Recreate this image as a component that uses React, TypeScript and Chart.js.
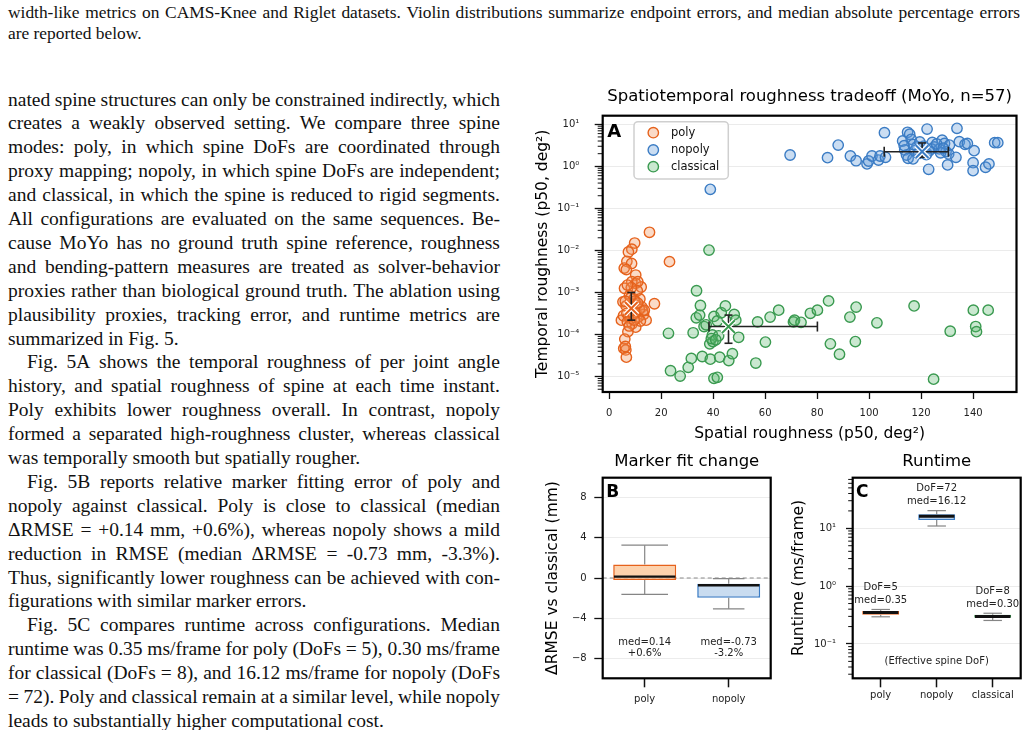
import { useEffect, useRef } from "react";
import { Chart, registerables } from "chart.js";

Chart.register(...registerables);
Chart.defaults.font.family = "'DejaVu Sans', sans-serif";
Chart.defaults.color = "#222";

// ---------------- Panel A: spatial vs temporal roughness (one point per sequence) ----------------
const MODES = ["poly", "nopoly", "classical"];

// [spatial roughness p50 (deg²), temporal roughness p50 (deg²)]
const POLY_POINTS: [number, number][] = [
  [15.5, 0.027], [9.8, 0.015], [8.7, 0.0107], [7.4, 0.0092], [6.8, 0.0055], [8.6, 0.0049],
  [5.8, 0.0038], [10.2, 0.0026], [6.6, 0.0035], [23.2, 0.0054], [10.2, 0.00165], [8.7, 0.0018],
  [5.9, 0.00126], [12.3, 0.00135], [11.0, 0.0018], [17.4, 0.00054], [5.3, 0.0006], [7.8, 0.00085],
  [9.5, 0.0007], [10.8, 0.0011], [11.8, 0.0007], [6.5, 0.00048], [8.0, 0.00055], [9.0, 0.00042],
  [10.5, 0.0005], [12.6, 0.00045], [13.2, 0.0003], [12.9, 0.00036], [14.2, 0.00022], [4.7, 0.00022],
  [5.5, 0.00028], [6.8, 0.00032], [7.5, 0.00027], [8.3, 0.00024], [9.3, 0.0003], [10.3, 0.00033],
  [11.2, 0.00026], [7.0, 0.0002], [8.8, 0.00018], [10.2, 0.00015], [7.2, 0.000117], [6.0, 0.000078],
  [5.6, 0.000047], [6.4, 0.000043], [6.6, 0.000029], [6.2, 0.000052], [11.6, 0.0004], [13.5, 0.00038],
  [9.9, 0.00062], [8.3, 0.00075], [6.2, 0.00062], [12.0, 0.00021], [7.7, 0.00016], [9.6, 0.00022],
  [11.0, 0.00056], [8.5, 0.0013], [7.0, 0.0015],
];

const NOPOLY_POINTS: [number, number][] = [
  [69.6, 1.86], [38.9, 0.284], [84.0, 1.61], [88.1, 3.2], [92.8, 1.76], [95.0, 1.36],
  [99.2, 1.14], [99.8, 1.34], [101.1, 1.76], [103.6, 1.41], [104.2, 1.76], [105.9, 6.3],
  [106.3, 1.64], [112.9, 4.0], [113.7, 2.45], [114.4, 1.86], [114.8, 6.45], [115.6, 5.8],
  [116.2, 4.4], [115.0, 1.55], [116.9, 1.5], [117.5, 2.35], [118.4, 2.93], [122.3, 7.7],
  [122.9, 0.85], [124.3, 3.7], [125.1, 2.9], [127.0, 2.6], [128.1, 4.2], [129.0, 3.5],
  [129.6, 2.24], [130.2, 1.08], [130.6, 1.97], [130.9, 3.2], [133.4, 1.64], [133.8, 8.0],
  [134.7, 3.86], [136.9, 3.34], [137.8, 3.5], [140.4, 2.36], [140.0, 1.22], [140.0, 0.79],
  [144.8, 0.95], [146.1, 1.14], [148.3, 3.65], [149.5, 3.65], [113.5, 3.1], [117.0, 3.3],
  [119.0, 2.0], [121.0, 3.0], [124.0, 2.6], [126.0, 3.4], [127.5, 2.1], [123.0, 2.3],
  [119.5, 3.8], [128.5, 2.7], [122.0, 1.9],
];

const CLASSICAL_POINTS: [number, number][] = [
  [33.6, 0.0011], [22.8, 0.000107], [23.6, 0.0000138], [27.3, 0.0000103], [30.4, 0.0000166],
  [31.6, 0.000027], [32.3, 0.00011], [33.5, 0.00025], [34.8, 0.00029], [35.1, 0.00049],
  [35.8, 0.00003], [36.5, 0.000155], [38.9, 0.000026], [38.7, 0.00006], [39.7, 0.000098],
  [39.9, 0.000068], [40.3, 0.0000091], [41.6, 0.0000096], [40.3, 0.00027], [41.6, 0.00021],
  [42.1, 0.000093], [42.5, 0.000029], [43.1, 0.00033], [44.7, 0.00048], [46.0, 0.000024],
  [47.4, 0.000035], [48.1, 0.0003], [48.7, 0.00022], [49.8, 0.000086], [56.4, 0.000021],
  [57.1, 0.0002], [60.1, 0.000066], [61.9, 0.00026], [65.2, 0.00038], [70.9, 0.0002],
  [71.3, 0.00022], [73.8, 0.000195], [77.4, 0.00032], [80.1, 0.00038], [84.4, 0.00063],
  [85.1, 0.00006], [88.6, 0.000034], [92.6, 0.00026], [95.0, 0.00045], [94.7, 0.000068],
  [103.0, 0.00019], [117.3, 0.00048], [124.8, 0.0000087], [131.2, 0.00012], [140.1, 0.00038],
  [141.0, 0.000155], [141.3, 0.000117], [145.8, 0.00038], [38.4, 0.0102], [39.3, 0.00008],
  [41.0, 0.000075], [37.3, 0.00017],
];

// medians and interquartile ranges per mode (poly, nopoly, classical)
const MEDIAN_SPATIAL = [8.5, 120.4, 45.9];
const MEDIAN_TEMPORAL = [4.2e-4, 2.23, 1.55e-4];
const SPATIAL_Q1: (number | null)[] = [null, 105.8, 38.4];
const SPATIAL_Q3: (number | null)[] = [null, 130.5, 80.1];
const TEMPORAL_Q1 = [2.2e-4, 1.64, 6.2e-5];
const TEMPORAL_Q3 = [1.0e-3, 3.6, 2.9e-4];

const SPATIAL_TICKS = [0, 20, 40, 60, 80, 100, 120, 140];

// ---------------- Panel B: marker RMSE change relative to classical ----------------
const B_LABELS = ["poly", "nopoly"];
const B_MEDIAN = [0.14, -0.73];
const B_Q1 = [-0.2, -1.97];
const B_Q3 = [1.35, -0.57];
const B_WHISKER_LO = [-1.63, -3.07];
const B_WHISKER_HI = [3.27, -0.07];
const B_PERCENT = ["+0.6%", "-3.2%"];
const B_TICKS = [-8, -4, 0, 4, 8];

// ---------------- Panel C: runtime per frame ----------------
const C_LABELS = ["poly", "nopoly", "classical"];
const C_DOF = [5, 72, 8];
const C_MEDIAN = [0.35, 16.12, 0.3];
const C_Q1 = [0.32, 13.9, 0.285];
const C_Q3 = [0.37, 17.5, 0.32];
const C_WHISKER_LO = [0.295, 10.96, 0.255];
const C_WHISKER_HI = [0.395, 20.2, 0.34];

// ---------------- styling ----------------
const EDGE: Record<string, string> = { poly: "#e6621c", nopoly: "#3b7cc4", classical: "#3a9a50" };
const DOT_FILL: Record<string, string> = {
  poly: "rgba(240,140,80,0.32)",
  nopoly: "rgba(90,150,215,0.32)",
  classical: "rgba(90,185,110,0.32)",
};
const BOX_FILL: Record<string, string> = { poly: "#fdd2ad", nopoly: "#c9dcf0", classical: "#c6e6cc" };
const WHISKER = "#858585";
const SANS = "'DejaVu Sans', sans-serif";
const SERIF = "'Liberation Serif', 'Times New Roman', serif";

const SUP: Record<string, string> = {
  "-": "⁻", "0": "⁰", "1": "¹", "2": "²", "3": "³", "4": "⁴", "5": "⁵", "6": "⁶", "7": "⁷", "8": "⁸", "9": "⁹",
};
const isDecade = (v: number) => {
  const l = Math.log10(v);
  return Math.abs(l - Math.round(l)) < 1e-9;
};
const decadeLabel = (v: number) =>
  isDecade(v) ? "10" + String(Math.round(Math.log10(v))).split("").map((c) => SUP[c]).join("") : "";

function logTicks(min: number, max: number) {
  const out: { value: number; major: boolean }[] = [];
  for (let e = Math.floor(Math.log10(min)); e <= Math.ceil(Math.log10(max)); e++) {
    for (let m = 1; m <= 9; m++) {
      const v = m * Math.pow(10, e);
      if (v >= min && v <= max) out.push({ value: v, major: m === 1 });
    }
  }
  return out;
}

function seg(ctx: CanvasRenderingContext2D, x1: number, y1: number, x2: number, y2: number) {
  ctx.beginPath();
  ctx.moveTo(x1, y1);
  ctx.lineTo(x2, y2);
  ctx.stroke();
}

// thick axes frame plus the bold panel letter
const framePlugin = (letter: string, size: number, dx: number, dy: number) => ({
  id: "frame",
  afterDraw(chart: any) {
    const { ctx, chartArea: a } = chart;
    ctx.save();
    ctx.strokeStyle = "#000";
    ctx.lineWidth = 2.2;
    ctx.strokeRect(a.left, a.top, a.right - a.left, a.bottom - a.top);
    ctx.font = `bold ${size}px ${SANS}`;
    ctx.fillStyle = "#000";
    ctx.textAlign = "left";
    ctx.textBaseline = "alphabetic";
    ctx.fillText(letter, a.left + dx, a.top + dy);
    ctx.restore();
  },
});

// short minor ticks on a logarithmic y axis
const minorTicksPlugin = (len: number) => ({
  id: "minorTicks",
  afterDraw(chart: any) {
    const { ctx, chartArea: a } = chart;
    const s = chart.scales.y;
    ctx.save();
    ctx.strokeStyle = "#111";
    ctx.lineWidth = 1;
    for (const t of s.ticks) {
      if (isDecade(t.value)) continue;
      const y = s.getPixelForValue(t.value);
      seg(ctx, a.left, y, a.left - len, y);
    }
    ctx.restore();
  },
});

const logGrid = (len: number) => ({
  color: (c: any) => (c.tick && isDecade(c.tick.value) ? "#ebebeb" : "rgba(0,0,0,0)"),
  tickColor: (c: any) => (c.tick && isDecade(c.tick.value) ? "#111" : "rgba(0,0,0,0)"),
  tickLength: len,
  tickWidth: 1.3,
  lineWidth: 1,
});

// ---------------- Panel A chart ----------------
function makeChartA(canvas: HTMLCanvasElement) {
  const series = [POLY_POINTS, NOPOLY_POINTS, CLASSICAL_POINTS];
  const medians = MEDIAN_SPATIAL.map((x, i) => ({ x, y: MEDIAN_TEMPORAL[i] }));

  const errorBars = {
    id: "errorBars",
    beforeDatasetDraw(chart: any, args: any) {
      if (args.index !== 3) return;
      const { ctx } = chart;
      const xs = chart.scales.x;
      const ys = chart.scales.y;
      ctx.save();
      ctx.strokeStyle = "#222";
      ctx.lineWidth = 1.6;
      MODES.forEach((_, i) => {
        const px = xs.getPixelForValue(MEDIAN_SPATIAL[i]);
        const py = ys.getPixelForValue(MEDIAN_TEMPORAL[i]);
        const lo = SPATIAL_Q1[i];
        const hi = SPATIAL_Q3[i];
        if (lo != null && hi != null) {
          const x1 = xs.getPixelForValue(lo);
          const x2 = xs.getPixelForValue(hi);
          seg(ctx, x1, py, x2, py);
          seg(ctx, x1, py - 5, x1, py + 5);
          seg(ctx, x2, py - 5, x2, py + 5);
        }
        const y1 = ys.getPixelForValue(TEMPORAL_Q1[i]);
        const y2 = ys.getPixelForValue(TEMPORAL_Q3[i]);
        seg(ctx, px, y1, px, y2);
        seg(ctx, px - 4, y1, px + 4, y1);
        seg(ctx, px - 4, y2, px + 4, y2);
      });
      ctx.restore();
    },
  };

  const legend = {
    id: "legendBox",
    afterDraw(chart: any) {
      const { ctx, chartArea: a } = chart;
      const x0 = a.left + 31.3;
      const y0 = a.top + 6;
      ctx.save();
      ctx.beginPath();
      ctx.roundRect(x0, y0, 94.3, 57.3, 4);
      ctx.fillStyle = "rgba(255,255,255,0.85)";
      ctx.fill();
      ctx.strokeStyle = "#cfcfcf";
      ctx.lineWidth = 1.5;
      ctx.stroke();
      const rows = [17, 34.3, 51];
      ctx.font = `11.5px ${SANS}`;
      ctx.textAlign = "left";
      ctx.textBaseline = "middle";
      MODES.forEach((m, i) => {
        const cy = a.top + rows[i];
        ctx.beginPath();
        ctx.arc(a.left + 50.6, cy, 5.2, 0, Math.PI * 2);
        ctx.fillStyle = "#fff";
        ctx.fill();
        ctx.fillStyle = DOT_FILL[m];
        ctx.fill();
        ctx.strokeStyle = EDGE[m];
        ctx.lineWidth = 1.4;
        ctx.stroke();
        ctx.fillStyle = "#111";
        ctx.fillText(m, a.left + 68.3, cy + 0.5);
      });
      ctx.restore();
    },
  };

  return new Chart(canvas, {
    type: "scatter",
    data: {
      datasets: [
        ...MODES.map((m, i) => ({
          label: m,
          data: series[i].map(([x, y]) => ({ x, y })),
          pointRadius: 5.2,
          borderWidth: 1.4,
          borderColor: EDGE[m],
          backgroundColor: DOT_FILL[m],
        })),
        {
          label: "median (white)",
          data: medians,
          pointStyle: "crossRot",
          pointRadius: 9,
          borderWidth: 4.5,
          borderColor: "#ffffff",
          order: -1,
        },
        {
          label: "median",
          data: medians,
          pointStyle: "crossRot",
          pointRadius: 9,
          borderWidth: 2,
          borderColor: MODES.map((m) => EDGE[m]),
          order: -2,
        },
      ],
    } as any,
    options: {
      responsive: false,
      animation: false,
      events: [],
      layout: { padding: { left: 0, right: 8.7, top: 0, bottom: 0 } },
      plugins: {
        legend: { display: false },
        tooltip: { enabled: false },
        title: {
          display: true,
          text: "Spatiotemporal roughness tradeoff (MoYo, n=57)",
          fullSize: false,
          color: "#000",
          font: { size: 16.5, weight: "normal" },
          padding: { top: 6.8, bottom: 9.1 },
        },
      },
      scales: {
        x: {
          type: "linear",
          min: -2.5,
          max: 156.7,
          afterBuildTicks: (s: any) => {
            s.ticks = SPATIAL_TICKS.map((v) => ({ value: v }));
          },
          afterFit: (s: any) => {
            s.height = 58;
          },
          grid: { drawOnChartArea: false, tickLength: 7, tickWidth: 1.3, tickColor: "#111" },
          border: { display: false },
          ticks: { font: { size: 10 }, color: "#222", padding: 8.3, autoSkip: false, maxRotation: 0 },
          title: {
            display: true,
            text: "Spatial roughness (p50, deg²)",
            color: "#000",
            font: { size: 15.5 },
            padding: { top: 0, bottom: 6.4 },
          },
        },
        y: {
          type: "logarithmic",
          min: 4.3e-6,
          max: 16,
          afterBuildTicks: (s: any) => {
            s.ticks = logTicks(4.3e-6, 16);
          },
          afterFit: (s: any) => {
            s.width = 72.7;
          },
          grid: logGrid(8),
          border: { display: false },
          ticks: { callback: (v: any) => decadeLabel(Number(v)), font: { size: 10 }, color: "#222", padding: 15.4, autoSkip: false },
          title: {
            display: true,
            text: "Temporal roughness (p50, deg²)",
            color: "#000",
            font: { size: 15.5 },
            padding: { top: 3.7, bottom: 0 },
          },
        },
      },
    } as any,
    plugins: [errorBars, minorTicksPlugin(5), framePlugin("A", 18, 4.5, 21.3), legend],
  });
}

// box whiskers, caps and medians drawn over floating bars
function boxDecor(
  med: number[],
  q1: number[],
  q3: number[],
  wlo: number[],
  whi: number[],
  capFrac: number[],
  medWidth: number
) {
  return {
    id: "boxDecor",
    afterDatasetsDraw(chart: any) {
      const { ctx } = chart;
      const ys = chart.scales.y;
      const bars = chart.getDatasetMeta(0).data;
      ctx.save();
      bars.forEach((bar: any, i: number) => {
        const cx = bar.x;
        const half = bar.width / 2;
        const cap = (bar.width * capFrac[i]) / 2;
        const yHi = ys.getPixelForValue(whi[i]);
        const yLo = ys.getPixelForValue(wlo[i]);
        ctx.strokeStyle = WHISKER;
        ctx.lineWidth = 1.2;
        seg(ctx, cx, ys.getPixelForValue(q3[i]), cx, yHi);
        seg(ctx, cx, ys.getPixelForValue(q1[i]), cx, yLo);
        seg(ctx, cx - cap, yHi, cx + cap, yHi);
        seg(ctx, cx - cap, yLo, cx + cap, yLo);
        const ym = ys.getPixelForValue(med[i]);
        ctx.strokeStyle = "#111";
        ctx.lineWidth = medWidth;
        seg(ctx, cx - half + 0.8, ym, cx + half - 0.8, ym);
      });
      ctx.restore();
    },
  };
}

// ---------------- Panel B chart ----------------
const B_NOTE_Y = -6.95;

function makeChartB(canvas: HTMLCanvasElement) {
  const zeroLine = {
    id: "zeroLine",
    beforeDatasetsDraw(chart: any) {
      const { ctx, chartArea: a } = chart;
      const y = chart.scales.y.getPixelForValue(0);
      ctx.save();
      ctx.strokeStyle = "#8a8a8a";
      ctx.lineWidth = 1.2;
      ctx.setLineDash([4, 3]);
      seg(ctx, a.left, y, a.right, y);
      ctx.restore();
    },
  };
  const notes = {
    id: "notes",
    afterDatasetsDraw(chart: any) {
      const { ctx } = chart;
      const bars = chart.getDatasetMeta(0).data;
      const y = chart.scales.y.getPixelForValue(B_NOTE_Y);
      ctx.save();
      ctx.font = `10px ${SANS}`;
      ctx.fillStyle = "#222";
      ctx.textAlign = "center";
      ctx.textBaseline = "middle";
      bars.forEach((bar: any, i: number) => {
        ctx.fillText(`med=${B_MEDIAN[i].toFixed(2)}`, bar.x, y - 5.3);
        ctx.fillText(B_PERCENT[i], bar.x, y + 5.3);
      });
      ctx.restore();
    },
  };

  return new Chart(canvas, {
    type: "bar",
    data: {
      labels: B_LABELS,
      datasets: [
        {
          label: "ΔRMSE",
          data: B_LABELS.map((_, i) => [B_Q1[i], B_Q3[i]]),
          backgroundColor: B_LABELS.map((m) => BOX_FILL[m]),
          borderColor: B_LABELS.map((m) => EDGE[m]),
          borderWidth: 1.6,
          borderSkipped: false,
          barPercentage: 0.75,
          categoryPercentage: 1,
        },
      ],
    } as any,
    options: {
      responsive: false,
      animation: false,
      events: [],
      layout: { padding: { left: 0, right: 9.3, top: 0, bottom: 0 } },
      plugins: {
        legend: { display: false },
        tooltip: { enabled: false },
        title: {
          display: true,
          text: "Marker fit change",
          fullSize: false,
          color: "#000",
          font: { size: 16.5, weight: "normal" },
          padding: { top: 11.8, bottom: 6.1 },
        },
      },
      scales: {
        x: {
          offset: true,
          afterFit: (s: any) => {
            s.height = 51.7;
          },
          grid: { offset: false, drawOnChartArea: false, tickLength: 9, tickWidth: 1.5, tickColor: "#111" },
          border: { display: false },
          ticks: { font: { size: 10 }, color: "#222", padding: 6 },
        },
        y: {
          type: "linear",
          min: -10,
          max: 10,
          afterBuildTicks: (s: any) => {
            s.ticks = B_TICKS.map((v) => ({ value: v }));
          },
          afterFit: (s: any) => {
            s.width = 72.7;
          },
          grid: { color: "#ececec", tickColor: "#111", tickLength: 8.4, tickWidth: 1.3 },
          border: { display: false },
          ticks: {
            callback: (v: any) => String(v).replace("-", "−"),
            font: { size: 10 },
            color: "#222",
            padding: 7.6,
            autoSkip: false,
          },
          title: {
            display: true,
            text: "ΔRMSE vs classical (mm)",
            color: "#000",
            font: { size: 15.5 },
            padding: { top: 14, bottom: 0 },
          },
        },
      },
    } as any,
    plugins: [
      zeroLine,
      boxDecor(B_MEDIAN, B_Q1, B_Q3, B_WHISKER_LO, B_WHISKER_HI, [0.74, 0.5], 2.4),
      notes,
      framePlugin("B", 17, 3.5, 19.6),
    ],
  });
}

// ---------------- Panel C chart ----------------
const C_NOTE_Y = 0.05;

function makeChartC(canvas: HTMLCanvasElement) {
  const notes = {
    id: "notes",
    afterDatasetsDraw(chart: any) {
      const { ctx, chartArea: a } = chart;
      const bars = chart.getDatasetMeta(0).data;
      const ys = chart.scales.y;
      ctx.save();
      ctx.font = `10px ${SANS}`;
      ctx.fillStyle = "#222";
      ctx.textAlign = "center";
      ctx.textBaseline = "middle";
      bars.forEach((bar: any, i: number) => {
        const top = ys.getPixelForValue(C_WHISKER_HI[i]);
        ctx.fillText(`DoF=${C_DOF[i]}`, bar.x, top - 22);
        ctx.fillText(`med=${C_MEDIAN[i].toFixed(2)}`, bar.x, top - 9);
      });
      ctx.fillText("(Effective spine DoF)", (a.left + a.right) / 2, ys.getPixelForValue(C_NOTE_Y));
      ctx.restore();
    },
  };

  return new Chart(canvas, {
    type: "bar",
    data: {
      labels: C_LABELS,
      datasets: [
        {
          label: "runtime",
          data: C_LABELS.map((_, i) => [C_Q1[i], C_Q3[i]]),
          backgroundColor: C_LABELS.map((m) => BOX_FILL[m]),
          borderColor: C_LABELS.map((m) => EDGE[m]),
          borderWidth: 1.6,
          borderSkipped: false,
          barPercentage: 0.66,
          categoryPercentage: 1,
        },
      ],
    } as any,
    options: {
      responsive: false,
      animation: false,
      events: [],
      layout: { padding: { left: 0, right: 9.3, top: 0, bottom: 0 } },
      plugins: {
        legend: { display: false },
        tooltip: { enabled: false },
        title: {
          display: true,
          text: "Runtime",
          fullSize: false,
          color: "#000",
          font: { size: 16.5, weight: "normal" },
          padding: { top: 11.8, bottom: 6.1 },
        },
      },
      scales: {
        x: {
          offset: true,
          afterFit: (s: any) => {
            s.height = 51.7;
          },
          grid: { offset: false, drawOnChartArea: false, tickLength: 9, tickWidth: 1.5, tickColor: "#111" },
          border: { display: false },
          ticks: { font: { size: 10 }, color: "#222", padding: 1.7 },
        },
        y: {
          type: "logarithmic",
          min: 0.0255,
          max: 75,
          afterBuildTicks: (s: any) => {
            s.ticks = logTicks(0.0255, 75);
          },
          afterFit: (s: any) => {
            s.width = 72.7;
          },
          grid: logGrid(6.7),
          border: { display: false },
          ticks: { callback: (v: any) => decadeLabel(Number(v)), font: { size: 10 }, color: "#222", padding: 10, autoSkip: false },
          title: {
            display: true,
            text: "Runtime (ms/frame)",
            color: "#000",
            font: { size: 15.5 },
            padding: { top: 9.7, bottom: 0 },
          },
        },
      },
    } as any,
    plugins: [
      boxDecor(C_MEDIAN, C_Q1, C_Q3, C_WHISKER_LO, C_WHISKER_HI, [0.5, 0.5, 0.5], 3),
      notes,
      minorTicksPlugin(4.5),
      framePlugin("C", 17, 3.3, 19),
    ],
  });
}

function ChartBox({
  left,
  top,
  width,
  height,
  make,
}: {
  left: number;
  top: number;
  width: number;
  height: number;
  make: (c: HTMLCanvasElement) => Chart;
}) {
  const ref = useRef<HTMLCanvasElement>(null);
  useEffect(() => {
    const chart = make(ref.current!);
    return () => chart.destroy();
  }, [make]);
  return (
    <div style={{ position: "absolute", left, top, width, height }}>
      <canvas ref={ref} width={width} height={height} style={{ display: "block" }} />
    </div>
  );
}

// ---------------- surrounding paper text ----------------
type TextLine = { text: string; justify: boolean; indent?: boolean };

const CAPTION_LINES: TextLine[] = [
  {
    text: "width-like metrics on CAMS-Knee and Riglet datasets. Violin distributions summarize endpoint errors, and median absolute percentage errors",
    justify: true,
  },
  { text: "are reported below.", justify: false },
];

const BODY_LINES: TextLine[] = [
  { text: "nated spine structures can only be constrained indirectly, which", justify: true },
  { text: "creates a weakly observed setting.  We compare three spine", justify: true },
  { text: "modes:  poly, in which spine DoFs are coordinated through", justify: true },
  { text: "proxy mapping; nopoly, in which spine DoFs are independent;", justify: true },
  { text: "and classical, in which the spine is reduced to rigid segments.", justify: true },
  { text: "All configurations are evaluated on the same sequences.  Be-", justify: true },
  { text: "cause MoYo has no ground truth spine reference, roughness", justify: true },
  { text: "and bending-pattern measures are treated as solver-behavior", justify: true },
  { text: "proxies rather than biological ground truth. The ablation using", justify: true },
  { text: "plausibility proxies, tracking error, and runtime metrics are", justify: true },
  { text: "summarized in Fig. 5.", justify: false },
  { text: "Fig.  5A shows the temporal roughness of per joint angle", justify: true, indent: true },
  { text: "history, and spatial roughness of spine at each time instant.", justify: true },
  { text: "Poly exhibits lower roughness overall.  In contrast, nopoly", justify: true },
  { text: "formed a separated high-roughness cluster, whereas classical", justify: true },
  { text: "was temporally smooth but spatially rougher.", justify: false },
  { text: "Fig.  5B reports relative marker fitting error of poly and", justify: true, indent: true },
  { text: "nopoly against classical.  Poly is close to classical (median", justify: true },
  { text: "ΔRMSE = +0.14 mm, +0.6%), whereas nopoly shows a mild", justify: true },
  { text: "reduction in RMSE (median ΔRMSE = -0.73 mm, -3.3%).", justify: true },
  { text: "Thus, significantly lower roughness can be achieved with con-", justify: true },
  { text: "figurations with similar marker errors.", justify: false },
  { text: "Fig.  5C compares runtime across configurations.  Median", justify: true, indent: true },
  { text: "runtime was 0.35 ms/frame for poly (DoFs = 5), 0.30 ms/frame", justify: true },
  { text: "for classical (DoFs = 8), and 16.12 ms/frame for nopoly (DoFs", justify: true },
  { text: "= 72). Poly and classical remain at a similar level, while nopoly", justify: true },
  { text: "leads to substantially higher computational cost.", justify: false },
];

function Line({
  line,
  top,
  left,
  width,
  fontSize,
  lineHeight,
}: {
  line: TextLine;
  top: number;
  left: number;
  width: number;
  fontSize: number;
  lineHeight: number;
}) {
  const style: any = {
    position: "absolute",
    top,
    left,
    width,
    height: lineHeight,
    lineHeight: `${lineHeight}px`,
    fontFamily: SERIF,
    fontSize,
    color: "#111",
    whiteSpace: "nowrap",
    boxSizing: "border-box",
    paddingLeft: line.indent ? 19 : 0,
  };
  if (!line.justify) return <div style={style}>{line.text}</div>;
  const words = line.text.split(/\s+/);
  return (
    <div style={{ ...style, display: "flex", justifyContent: "space-between" }}>
      {words.map((w, i) => (
        <span key={i}>{w}</span>
      ))}
    </div>
  );
}

export default function App() {
  return (
    <div
      style={{
        position: "absolute",
        left: 0,
        top: 0,
        width: 1030,
        height: 730,
        overflow: "hidden",
        background: "#fff",
      }}
    >
      {CAPTION_LINES.map((l, i) => (
        <Line key={"c" + i} line={l} top={1.6 + i * 21.7} left={8} width={1012} fontSize={17.4} lineHeight={21.7} />
      ))}
      {BODY_LINES.map((l, i) => (
        <Line key={"b" + i} line={l} top={87.5 + i * 23.9} left={8} width={492} fontSize={19.5} lineHeight={23.9} />
      ))}
      <ChartBox left={530} top={80} width={500} height={370} make={makeChartA} />
      <ChartBox left={530} top={440} width={250} height={290} make={makeChartB} />
      <ChartBox left={780} top={440} width={250} height={290} make={makeChartC} />
    </div>
  );
}
